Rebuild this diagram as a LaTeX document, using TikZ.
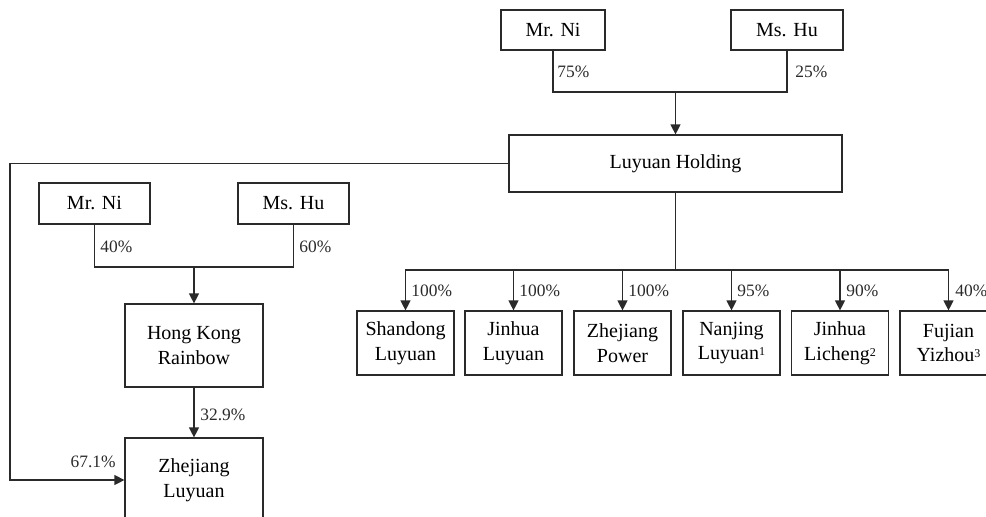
\documentclass[tikz,border=0pt]{standalone}
\usepackage{fontspec}
\setmainfont{Liberation Serif}
\usetikzlibrary{arrows.meta}
\definecolor{ln}{HTML}{2A2A2A}
\newcommand{\supn}[1]{\smash{\raisebox{0.45ex}{\fontsize{6}{6}\selectfont #1}}}
\tikzset{
  box/.style={draw=ln, line width=0.6pt, rectangle, inner sep=0pt, align=center,
    font=\fontsize{10}{12.4}\selectfont},
  sub/.style={box, minimum width=48.5pt, minimum height=32pt},
  conn/.style={draw=ln, line width=0.6pt},
  arr/.style={conn, -{Triangle[length=5pt,width=5pt]}},
  pct/.style={inner sep=0pt, anchor=west, font=\fontsize{8.7}{10}\selectfont, text=ln}
}
\begin{document}
\begin{tikzpicture}[x=0.5pt,y=-0.5pt]
\useasboundingbox (0,0) rectangle (986,516);
\clip (0,0) rectangle (986,516);
% top owners
\node[box, minimum width=52pt, minimum height=20pt] (niA) at (553,30) {Mr. Ni};
\node[box, minimum width=56pt, minimum height=20pt] (huA) at (787,30) {Ms. Hu};
\node[box, minimum width=166.5pt, minimum height=28.5pt] (hold) at (675.5,163.5) {Luyuan Holding};
% left owners
\node[box, minimum width=55.5pt, minimum height=20.5pt] (niB) at (94.5,203.5) {Mr. Ni};
\node[box, minimum width=55.5pt, minimum height=20.5pt] (huB) at (293.5,203.5) {Ms. Hu};
\node[box, minimum width=69pt, minimum height=41.5pt] (hk) at (194,345.5) {Hong Kong\\Rainbow};
\node[box, minimum width=69pt, minimum height=42pt] (zl) at (194,480) {Zhejiang\\Luyuan};
% subsidiaries
\node[sub] (s1) at (405.5,343) {Shandong\\Luyuan};
\node[sub] (s2) at (513.5,343) {Jinhua\\Luyuan};
\node[sub] (s3) at (622.5,343) {Zhejiang\\Power};
\node[sub] (s4) at (731.5,343) {Nanjing\\Luyuan\supn{1}};
\node[sub] (s5) at (840,343) {Jinhua\\Licheng\supn{2}};
\node[sub] (s6) at (948.5,343) {Fujian\\Yizhou\supn{3}};
% coordinates
\coordinate (jA) at (675.5,92);
\coordinate (jB) at (194,267);
\coordinate (cL) at (10,0);
\coordinate (bus) at (0,270);
% connectors top
\draw[conn] (niA.south) |- (jA) -| (huA.south);
\draw[arr] (jA) -- (hold.north);
% connectors left
\draw[conn] (niB.south) |- (jB) -| (huB.south);
\draw[arr] (jB) -- (hk.north);
\draw[arr] (hk.south) -- (zl.north);
\draw[arr] (hold.west) -- (hold.west -| cL) |- (zl.west);
% bus
\draw[conn] (hold.south) -- (hold.south |- bus);
\foreach \s in {s1,s2,s3,s4,s5,s6}{
  \draw[arr] (hold.south |- bus) -| (\s.north);
}
% labels
\node[pct] (l75) at (557,72) {75\%};
\node[pct] (l25) at (795,72) {25\%};
\node[pct] (l40) at (100,247) {40\%};
\node[pct] (l60) at (299,247) {60\%};
\node[pct] (l329) at (200,415) {32.9\%};
\node[pct, anchor=east] (l671) at (116,462) {67.1\%};
\node[pct] (p1) at (411,291) {100\%};
\node[pct] (p2) at (519,291) {100\%};
\node[pct] (p3) at (628,291) {100\%};
\node[pct] (p4) at (737,291) {95\%};
\node[pct] (p5) at (846,291) {90\%};
\node[pct] (p6) at (955,291) {40\%};
\end{tikzpicture}
\end{document}
